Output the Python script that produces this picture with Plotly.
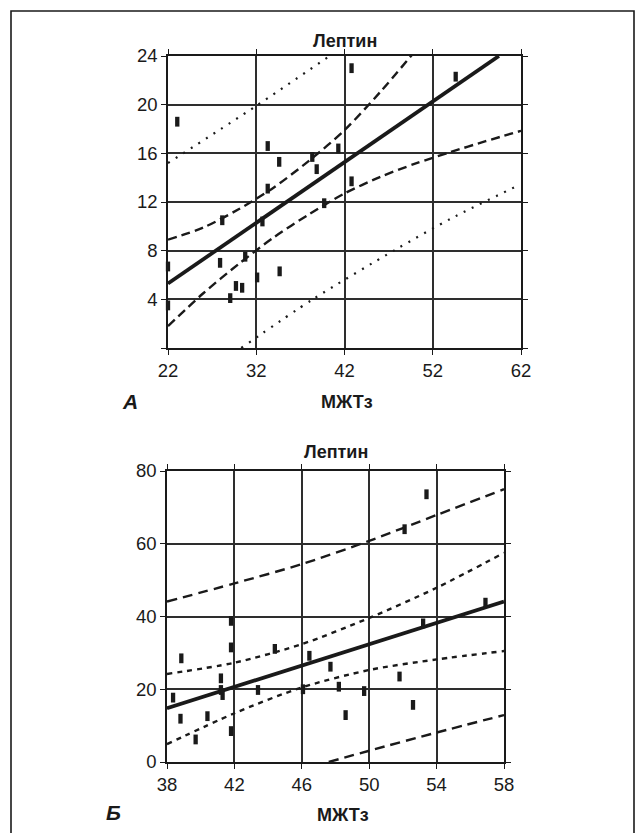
import plotly.graph_objects as go

# ---------------- Panel A data ----------------
a_x = [22.0, 22.0, 23.05, 27.9, 28.15, 29.05, 29.7, 30.4, 30.75, 32.1, 32.7,
       33.3, 33.3, 34.6, 34.65, 38.35, 38.85, 39.7, 41.3, 42.8, 42.8, 54.6]
a_y = [6.7, 3.5, 18.6, 7.0, 10.5, 4.1, 5.1, 4.95, 7.5, 5.8, 10.4,
       16.6, 13.1, 15.3, 6.3, 15.7, 14.7, 11.9, 16.4, 13.7, 23.0, 22.3]

a_fit_x = [22, 59.5]
a_fit_y = [5.3, 24.0]

a_ci_up_x = [22, 26, 30, 34, 38, 42, 46, 50]
a_ci_up_y = [8.9, 9.9, 11.4, 13.2, 15.4, 17.9, 21.0, 24.4]
a_ci_lo_x = [22, 26, 30, 34, 38, 42, 46, 50, 54, 58, 62]
a_ci_lo_y = [1.8, 4.5, 6.9, 9.1, 11.0, 12.7, 14.05, 15.15, 16.1, 17.0, 17.85]

a_pi_up_x = [22, 32, 40.3]
a_pi_up_y = [15.2, 19.9, 24.0]
a_pi_lo_x = [30.3, 38.4, 47.7, 54.1, 61.8]
a_pi_lo_y = [0.0, 4.0, 8.05, 10.65, 13.4]

a_xticks = [22, 32, 42, 52, 62]
a_yticks = [0, 4, 8, 12, 16, 20, 24]
a_ytext = ["", "4", "8", "12", "16", "20", "24"]

# ---------------- Panel B data ----------------
b_x = [38.36, 38.8, 38.85, 39.7, 40.4, 41.2, 41.2, 41.3, 41.8, 41.8, 41.8,
       43.4, 44.4, 46.07, 46.45, 47.7, 48.2, 48.6, 49.7, 51.8, 52.6, 53.2,
       52.1, 53.4, 56.9]
b_y = [17.7, 11.9, 28.5, 6.2, 12.6, 23.0, 19.8, 18.4, 38.8, 31.5, 8.5,
       19.8, 31.1, 20.0, 29.2, 26.2, 20.7, 12.9, 19.5, 23.5, 15.7, 38.1,
       64.0, 73.6, 43.8]

b_fit_x = [38, 58]
b_fit_y = [14.8, 44.1]

b_ci_up_x = [38, 42, 46, 50, 54, 58]
b_ci_up_y = [24.2, 27.3, 32.4, 39.6, 47.9, 57.5]
b_ci_lo_x = [38, 42, 46, 50, 54, 58]
b_ci_lo_y = [4.9, 13.4, 20.5, 25.3, 28.2, 30.5]

b_pi_up_x = [38, 42, 46, 50, 54, 58]
b_pi_up_y = [44.1, 49.1, 54.4, 60.8, 67.9, 75.0]
b_pi_lo_x = [47.6, 50, 54, 58]
b_pi_lo_y = [0.0, 3.1, 8.1, 12.9]

b_xticks = [38, 42, 46, 50, 54, 58]
b_yticks = [0, 20, 40, 60, 80]

title_text = "Лептин"
xlab_text = "МЖТз"
panel_a = "А"
panel_b = "Б"

# ---------------- Figure ----------------
W, H = 640, 833
INK = "#1a1a1a"
FONT = "Liberation Sans, Arial, sans-serif"

fig = go.Figure()

def add_line(x, y, xa, ya, dash, width, spline=True):
    fig.add_trace(go.Scatter(
        x=x, y=y, xaxis=xa, yaxis=ya, mode="lines",
        line=dict(color=INK, width=width, dash=dash,
                  shape="spline" if spline else "linear", smoothing=0.8),
        hoverinfo="skip", showlegend=False, cliponaxis=True))

def add_points(x, y, xa, ya):
    fig.add_trace(go.Scatter(
        x=x, y=y, xaxis=xa, yaxis=ya, mode="markers",
        marker=dict(symbol="line-ns", size=7,
                    line=dict(color=INK, width=4.3)),
        hoverinfo="skip", showlegend=False, cliponaxis=False))

# Panel A
add_line(a_pi_up_x, a_pi_up_y, "x", "y", "2px,7px", 2.2)
add_line(a_pi_lo_x, a_pi_lo_y, "x", "y", "2px,7px", 2.2)
add_line(a_ci_up_x, a_ci_up_y, "x", "y", "9px,5px", 2.4)
add_line(a_ci_lo_x, a_ci_lo_y, "x", "y", "9px,5px", 2.4)
add_line(a_fit_x, a_fit_y, "x", "y", "solid", 3.8, spline=False)
add_points(a_x, a_y, "x", "y")

# Panel B
add_line(b_pi_up_x, b_pi_up_y, "x2", "y2", "10px,6px", 2.4)
add_line(b_pi_lo_x, b_pi_lo_y, "x2", "y2", "10px,6px", 2.4)
add_line(b_ci_up_x, b_ci_up_y, "x2", "y2", "5px,5px", 2.4)
add_line(b_ci_lo_x, b_ci_lo_y, "x2", "y2", "5px,5px", 2.4)
add_line(b_fit_x, b_fit_y, "x2", "y2", "solid", 3.8, spline=False)
add_points(b_x, b_y, "x2", "y2")

def px(v):
    return v / W

def py(v):
    return 1 - v / H

axis_common = dict(
    showgrid=True, gridcolor="#2e2e2e", gridwidth=1.5,
    showline=True, linecolor=INK, linewidth=1.6, mirror="ticks",
    ticks="outside", ticklen=5, tickwidth=1.4, tickcolor=INK,
    zeroline=False, fixedrange=True, automargin=False,
    tickfont=dict(family=FONT, size=18.5, color=INK),
)

fig.update_layout(
    template="none",
    width=W, height=H, autosize=False,
    margin=dict(l=0, r=0, t=0, b=0, pad=0, autoexpand=False),
    paper_bgcolor="white", plot_bgcolor="white",
    showlegend=False,
    xaxis=dict(axis_common, domain=[px(168), px(521)], range=[22, 62],
               tickvals=a_xticks, anchor="y"),
    yaxis=dict(axis_common, domain=[py(348), py(56)], range=[0, 24],
               tickvals=a_yticks, ticktext=a_ytext, anchor="x"),
    xaxis2=dict(axis_common, domain=[px(167), px(504)], range=[38, 58],
                tickvals=b_xticks, anchor="y2"),
    yaxis2=dict(axis_common, domain=[py(762), py(471)], range=[0, 80],
                tickvals=b_yticks, anchor="x2"),
)

def note(text, x, y, size, italic=False):
    t = "<b>" + text + "</b>"
    if italic:
        t = "<i>" + t + "</i>"
    fig.add_annotation(text=t, x=px(x), y=py(y), xref="paper", yref="paper",
                       showarrow=False, xanchor="center", yanchor="middle",
                       font=dict(family=FONT, size=size, color=INK))

note(title_text, 344.5, 41, 18)
note(xlab_text, 347, 402, 18)
note(panel_a, 130, 401, 21, italic=True)
note(title_text, 335.5, 452, 18)
note(xlab_text, 343, 815, 18)
note(panel_b, 113, 812, 21, italic=True)

# outer frame
fig.add_shape(type="rect", xref="paper", yref="paper",
              x0=px(11), x1=px(634), y0=-0.05, y1=py(11),
              line=dict(color=INK, width=1.6), fillcolor="rgba(0,0,0,0)",
              layer="below")

fig.write_html("out.html", config={"displayModeBar": False},
               post_script="document.body.style.margin='0px';")
